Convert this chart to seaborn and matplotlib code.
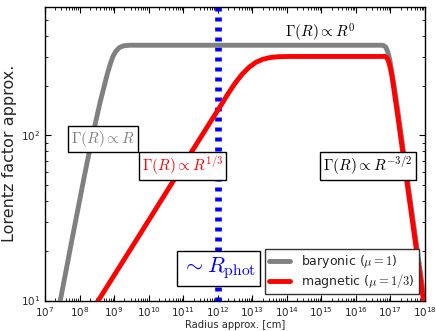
import numpy as np
import pandas as pd
import matplotlib
matplotlib.use("Agg")
import matplotlib.pyplot as plt
import seaborn as sns
from matplotlib.ticker import LogLocator, NullFormatter

# ---- data (log10 of radius, Lorentz factor) ----
baryonic_logR = [7.38, 7.443, 7.8, 8.15, 8.4, 8.6, 8.8, 8.9, 8.97, 9.05, 9.15, 9.27, 9.45,
                 16.725, 16.8, 16.87, 16.93, 16.98, 17.05, 17.1, 17.2, 17.4, 17.6, 17.8, 17.98, 18.05]
baryonic_gamma = [8.6, 10.0, 24.5, 58.2, 104.7, 160.3, 234.4, 275.4, 302.0, 323.6, 340.4, 349.1, 352.0,
                  352.0, 351.0, 342.0, 316.0, 288.0, 234.0, 204.0, 148.0, 74.0, 37.0, 18.6, 10.0, 7.9]

magnetic_logR = [8.40, 8.543, 9.75, 10.763, 11.776, 12.065, 12.3, 12.5, 12.7, 12.9, 13.1, 13.3, 13.5, 13.75, 14.1,
                 16.84, 16.9, 16.95, 17.0, 17.05, 17.2, 17.4, 17.6, 17.8, 17.955, 18.03]
magnetic_gamma = [8.9, 10.0, 25.2, 55.0, 119.7, 149.0, 179.0, 207.0, 234.0, 258.0, 277.0, 289.0, 296.0, 300.0, 301.0,
                  301.0, 295.0, 279.0, 254.0, 224.0, 136.0, 68.0, 34.1, 17.1, 10.0, 7.7]

series_labels = [r"baryonic ($\mu=1$)", r"magnetic ($\mu=1/3$)"]
series_colors = ["gray", "red"]
R_phot = 1e12
xlim = (1e7, 1e18)
ylim = (10, 600)

df = pd.concat([
    pd.DataFrame({"R": np.power(10.0, baryonic_logR), "Gamma": baryonic_gamma, "model": series_labels[0]}),
    pd.DataFrame({"R": np.power(10.0, magnetic_logR), "Gamma": magnetic_gamma, "model": series_labels[1]}),
])

sns.set_style("ticks")
plt.rcParams["font.family"] = ["DejaVu Sans"]

fig = plt.figure(figsize=(4.36, 3.31), dpi=100)
ax = fig.add_axes([45 / 436, 1 - 300.5 / 331, 380 / 436, 293.5 / 331])

for lab, col in zip(series_labels, series_colors):
    sub = df[df["model"] == lab]
    sns.lineplot(data=sub, x="R", y="Gamma", color=col, lw=3.5, label=lab,
                 sort=False, estimator=None, ax=ax, zorder=3)

ax.axvline(R_phot, color="blue", lw=4.8, linestyle=(0, (0.6, 0.9)), zorder=2)

ax.set_xscale("log")
ax.set_yscale("log")
ax.set_xlim(*xlim)
ax.set_ylim(*ylim)

ax.xaxis.set_major_locator(LogLocator(base=10, numticks=20))
ax.xaxis.set_minor_locator(LogLocator(base=10, subs=np.arange(2, 10), numticks=20))
ax.xaxis.set_minor_formatter(NullFormatter())
ax.yaxis.set_minor_formatter(NullFormatter())

ax.tick_params(which="both", direction="in", top=True, right=True, labelsize=7.5, color="black")
ax.tick_params(which="major", length=4, width=0.8)
ax.tick_params(which="minor", length=2, width=0.6)
for s in ax.spines.values():
    s.set_color("black")
    s.set_linewidth(1.0)

ax.set_xlabel("Radius approx. [cm]", fontsize=7.2, labelpad=0.5)
ax.set_ylabel("Lorentz factor approx.", fontsize=11.5, labelpad=3)

box = dict(boxstyle="square,pad=0.2", fc="white", ec="black", lw=1)
kw = dict(transform=ax.transData, ha="center", va="center", math_fontfamily="cm", zorder=5)

def px2data(x, y):
    return ax.transData.inverted().transform(fig.transFigure.transform((x / 436, 1 - y / 331)))

for (px, py), txt, col, fs, b in [
    ((102.8, 138.8), r"$\Gamma(R)\propto R$", "gray", 11, box),
    ((182.2, 166.2), r"$\Gamma(R)\propto R^{1/3}$", "red", 11, box),
    ((320.0, 32.5), r"$\Gamma(R)\propto R^{0}$", "black", 11, None),
    ((368.0, 165.8), r"$\Gamma(R)\propto R^{-3/2}$", "black", 11, box),
    ((218.8, 268.3), r"$\sim R_{\rm phot}$", "blue", 16, box),
]:
    dx, dy = px2data(px, py)
    ax.text(dx, dy, txt, color=col, fontsize=fs, bbox=b, **kw)

leg = ax.legend(loc="lower right", fontsize=9, fancybox=False, framealpha=1,
                edgecolor="0.2", handlelength=1.7, handletextpad=0.9, borderaxespad=0.5,
                labelspacing=0.2, borderpad=0.3)
leg.get_frame().set_linewidth(1.0)
for t in leg.get_texts():
    t.set_math_fontfamily("cm")
leg.set_zorder(6)

fig.savefig("out.png", dpi=100)
